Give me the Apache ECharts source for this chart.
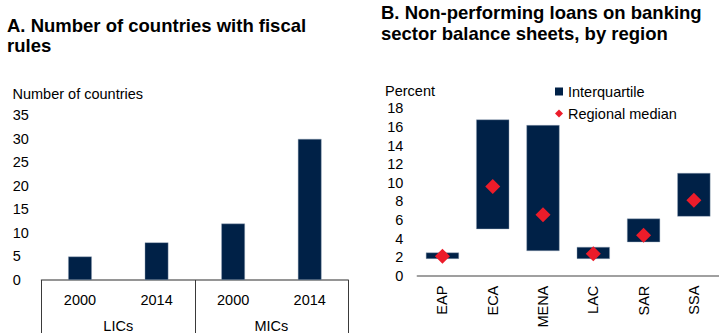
<!DOCTYPE html>
<html>
<head>
<meta charset="utf-8">
<script src="https://cdn.jsdelivr.net/npm/echarts@6/dist/echarts.min.js"></script>
<style>
  html, body { margin: 0; padding: 0; background: #fff; }
  #chart { width: 719px; height: 333px; }
</style>
</head>
<body>
<div id="chart"></div>
<script>
// Panel A: countries with fiscal rules
const yearLabels = ['2000', '2014', '2000', '2014'];
const incomeGroups = ['LICs', 'MICs'];
const countriesWithRules = [5, 8, 12, 30];
const countryTicks = { min: 0, max: 35, interval: 5 };

// Panel B: non-performing loans by region (percent)
const regions = ['EAP', 'ECA', 'MENA', 'LAC', 'SAR', 'SSA'];
const lowerQuartile = [1.8, 5.0, 2.65, 1.8, 3.6, 6.35];
const upperQuartile = [2.5, 16.8, 16.2, 3.1, 6.15, 11.05];
const regionalMedian = [2.1, 9.6, 6.55, 2.35, 4.35, 8.1];
const percentTicks = { min: 0, max: 18, interval: 2 };

const NAVY = '#002147';
const RED = '#ec1c2a';
const FONT = "'Liberation Sans', Arial, sans-serif";
const labelStyle = { color: '#000', fontSize: 14.5, fontFamily: FONT };

const chart = echarts.init(document.getElementById('chart'), null, { renderer: 'svg' });

chart.setOption({
  animation: false,
  title: [
    {
      text: 'A. Number of countries with fiscal\nrules',
      left: 7, top: 15, padding: 0,
      textStyle: { fontFamily: FONT, fontWeight: 'bold', fontSize: 18.5, lineHeight: 20, color: '#000' }
    },
    {
      text: 'B. Non-performing loans on banking\nsector balance sheets, by region',
      left: 381, top: 1.5, padding: 0,
      textStyle: { fontFamily: FONT, fontWeight: 'bold', fontSize: 18.5, lineHeight: 21, color: '#000' }
    }
  ],
  graphic: [
    { type: 'text', left: 12.5, top: 86, style: { text: 'Number of countries', fill: '#000', fontSize: 14.5, fontFamily: FONT } },
    { type: 'text', left: 385, top: 83, style: { text: 'Percent', fill: '#000', fontSize: 14.5, fontFamily: FONT } }
  ],
  legend: {
    orient: 'vertical',
    left: 555, top: 84, padding: 0,
    itemWidth: 8, itemHeight: 8,
    itemGap: 7,
    itemStyle: { borderWidth: 0 },
    textStyle: Object.assign({}, labelStyle, { lineHeight: 15 }),
    data: [
      { name: 'Interquartile', icon: 'rect' },
      { name: 'Regional median', icon: 'diamond' }
    ]
  },
  grid: [
    { left: 41.7, top: 115.3, width: 306.3, height: 166 },
    { left: 417.3, top: 108.3, width: 304, height: 167.4 }
  ],
  xAxis: [
    {
      gridIndex: 0, type: 'category', data: yearLabels, position: 'bottom',
      axisLine: { lineStyle: { color: '#959595', width: 2 } },
      axisTick: { show: false },
      axisLabel: Object.assign({ margin: 12 }, labelStyle)
    },
    {
      gridIndex: 0, type: 'category', data: incomeGroups, position: 'bottom',
      axisLine: { show: false },
      axisTick: { show: true, length: 53, lineStyle: { color: '#3a3a3a', width: 1 } },
      axisLabel: Object.assign({ margin: 38 }, labelStyle)
    },
    {
      gridIndex: 1, type: 'category', data: regions,
      axisLine: { lineStyle: { color: '#808080', width: 1.5 } },
      axisTick: { show: false },
      axisLabel: Object.assign({ margin: 10, rotate: 90 }, labelStyle)
    }
  ],
  yAxis: [
    {
      gridIndex: 0, type: 'value',
      min: countryTicks.min, max: countryTicks.max, interval: countryTicks.interval,
      axisLine: { show: false }, axisTick: { show: false }, splitLine: { show: false },
      axisLabel: Object.assign({ align: 'left', margin: 29 }, labelStyle)
    },
    {
      gridIndex: 1, type: 'value',
      min: percentTicks.min, max: percentTicks.max, interval: percentTicks.interval,
      axisLine: { show: false }, axisTick: { show: false }, splitLine: { show: false },
      axisLabel: Object.assign({ align: 'right', margin: 14 }, labelStyle)
    }
  ],
  series: [
    {
      name: 'Countries', type: 'bar', xAxisIndex: 0, yAxisIndex: 0,
      data: countriesWithRules, barWidth: '31%',
      itemStyle: { color: NAVY, borderColor: 'rgba(150,165,185,0.7)', borderWidth: 0.6 }
    },
    {
      name: 'base', type: 'bar', xAxisIndex: 2, yAxisIndex: 1, stack: 'npl',
      data: lowerQuartile, barWidth: '66%',
      itemStyle: { color: 'transparent' }, silent: true
    },
    {
      name: 'Interquartile', type: 'bar', xAxisIndex: 2, yAxisIndex: 1, stack: 'npl',
      data: upperQuartile.map((v, i) => +(v - lowerQuartile[i]).toFixed(3)), barWidth: '66%',
      itemStyle: { color: NAVY, borderColor: 'rgba(150,165,185,0.7)', borderWidth: 0.6 }
    },
    {
      name: 'Regional median', type: 'scatter', xAxisIndex: 2, yAxisIndex: 1,
      data: regionalMedian, symbol: 'diamond', symbolSize: 15,
      itemStyle: { color: RED, opacity: 1 }, z: 5
    }
  ]
});
</script>
</body>
</html>
